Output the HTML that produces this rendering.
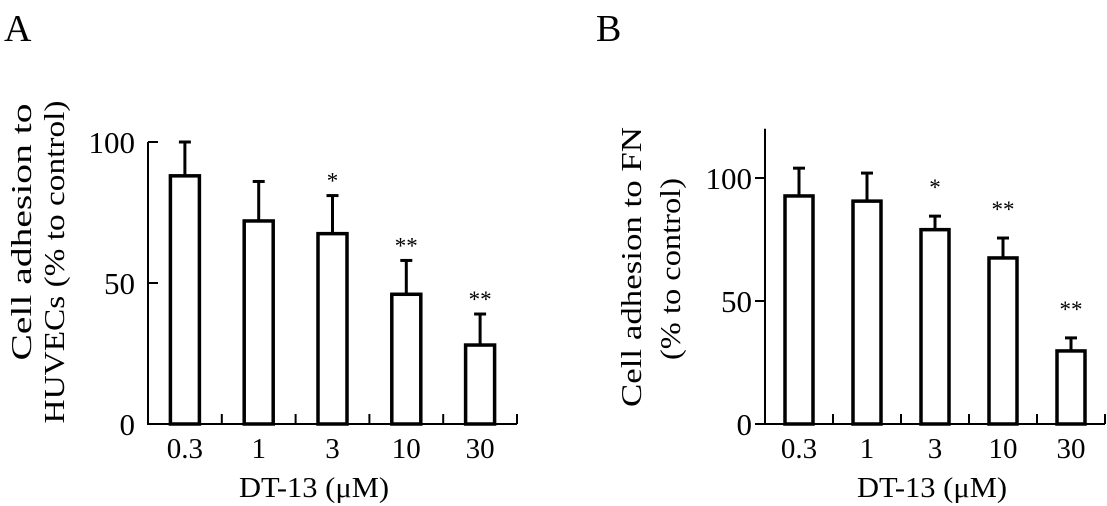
<!DOCTYPE html>
<html><head><meta charset="utf-8"><style>
html,body{margin:0;padding:0;background:#fff;}
svg{display:block;font-family:"Liberation Serif",serif;}
</style></head><body>
<svg id="fig" width="1107" height="506" viewBox="0 0 1107 506">
<text x="4" y="41" font-size="38">A</text>
<text x="596" y="41" font-size="38">B</text>
<g id="panelA"></g>
<g id="panelB"></g>
</svg>
<script>
const categories = ["0.3","1","3","10","30"];
const valuesA = [88, 72, 67.5, 46, 28];
const errorsA = [12, 14, 13.5, 12, 11];
const starsA = ["", "", "*", "**", "**"];
const ticksA = [0, 50, 100];
const valuesB = [92.7, 90.6, 79, 67.5, 29.7];
const errorsB = [11.3, 11.4, 5.5, 8.1, 5.3];
const starsB = ["", "", "*", "**", "**"];
const ticksB = [0, 50, 100];

const NS = "http://www.w3.org/2000/svg";
function mk(parent, tag, attrs, text){
  const e = document.createElementNS(NS, tag);
  for (const k in attrs) e.setAttribute(k, attrs[k]);
  if (text !== undefined) e.textContent = text;
  parent.appendChild(e);
  return e;
}

function drawPanel(g, cfg, values, errors, stars, ticks){
  const y = v => cfg.y0 - v * cfg.pxPerUnit;
  const step = (cfg.xEnd - cfg.x0) / categories.length;
  const xc = i => cfg.x0 + step * (i + 0.5);
  const ya = mk(g, "line", {x1:cfg.x0, y1:y(cfg.yTop), x2:cfg.x0, y2:cfg.y0+1, stroke:"#000","stroke-width":2});
  
  
  const xa = mk(g, "line", {x1:cfg.x0-1, y1:cfg.y0, x2:cfg.xEnd, y2:cfg.y0, stroke:"#000","stroke-width":2});
  
  
  ticks.forEach(t => {
    const tl = mk(g, "line", {x1:cfg.x0, y1:y(t), x2:cfg.x0 + cfg.tickDir*10, y2:y(t), stroke:"#000","stroke-width":2});
    
    
    const tx = mk(g, "text", {x:cfg.x0-13, y:y(t)+11, "font-size":31, "text-anchor":"end"}, String(t));
    
    
  });
  for (let i = 1; i <= categories.length; i++){
    const xt = cfg.x0 + step * i;
    const tk = mk(g, "line", {x1:xt, y1:cfg.y0, x2:xt, y2:cfg.y0-10, stroke:"#000","stroke-width":2});
    
    
  }
  categories.forEach((c, i) => {
    const cx = xc(i), w = cfg.barW;
    const top = y(values[i]), et = y(values[i] + errors[i]);
    const eb = mk(g, "line", {x1:cx, y1:et, x2:cx, y2:top, stroke:"#000","stroke-width":3});
    
    
    const cap = mk(g, "line", {x1:cx-6, y1:et, x2:cx+6, y2:et, stroke:"#000","stroke-width":3});
    
    
    const r = mk(g, "rect", {x:cx-w/2, y:top, width:w, height:cfg.y0-top, fill:"#fff", stroke:"#000","stroke-width":3.5});
    
    
    if (stars[i]){
      const s = mk(g, "text", {x:cx, y:et - cfg.starGap + 12, "font-size":23, "text-anchor":"middle"}, stars[i]);
      
      
    }
    const lb = mk(g, "text", {x:cx, y:458, "font-size":29, "text-anchor":"middle"}, c);
    
    
  });
  const xt = mk(g, "text", {x:cfg.xTitleX, y:497, "font-size":28, "text-anchor":"middle", textLength:150, lengthAdjust:"spacingAndGlyphs"}, "DT-13 (\u03bcM)");
  
  
  cfg.yTitle.forEach(l => {
    const t = mk(g, "text", {x:0, y:0, "font-size":29, "text-anchor":"middle", textLength:l.len, lengthAdjust:"spacingAndGlyphs", transform:`translate(${l.x},${l.cy}) rotate(-90)`}, l.text);
    
    
  });
}

drawPanel(document.getElementById("panelA"),
  {x0:148, xEnd:517, y0:424, pxPerUnit:2.82, yTop:100, barW:29, tickDir:1, xTitleX:314, starGap:19,
   yTitle:[{text:"Cell adhesion to", x:31, cy:232, len:257},{text:"HUVECs (% to control)", x:64, cy:262, len:323}]},
  valuesA, errorsA, starsA, ticksA);
drawPanel(document.getElementById("panelB"),
  {x0:765, xEnd:1105, y0:424, pxPerUnit:2.46, yTop:120, barW:28, tickDir:-1, xTitleX:932, starGap:33,
   yTitle:[{text:"Cell adhesion to FN", x:641, cy:267, len:280},{text:"(% to control)", x:680, cy:269, len:182}]},
  valuesB, errorsB, starsB, ticksB);
</script>
</body></html>
